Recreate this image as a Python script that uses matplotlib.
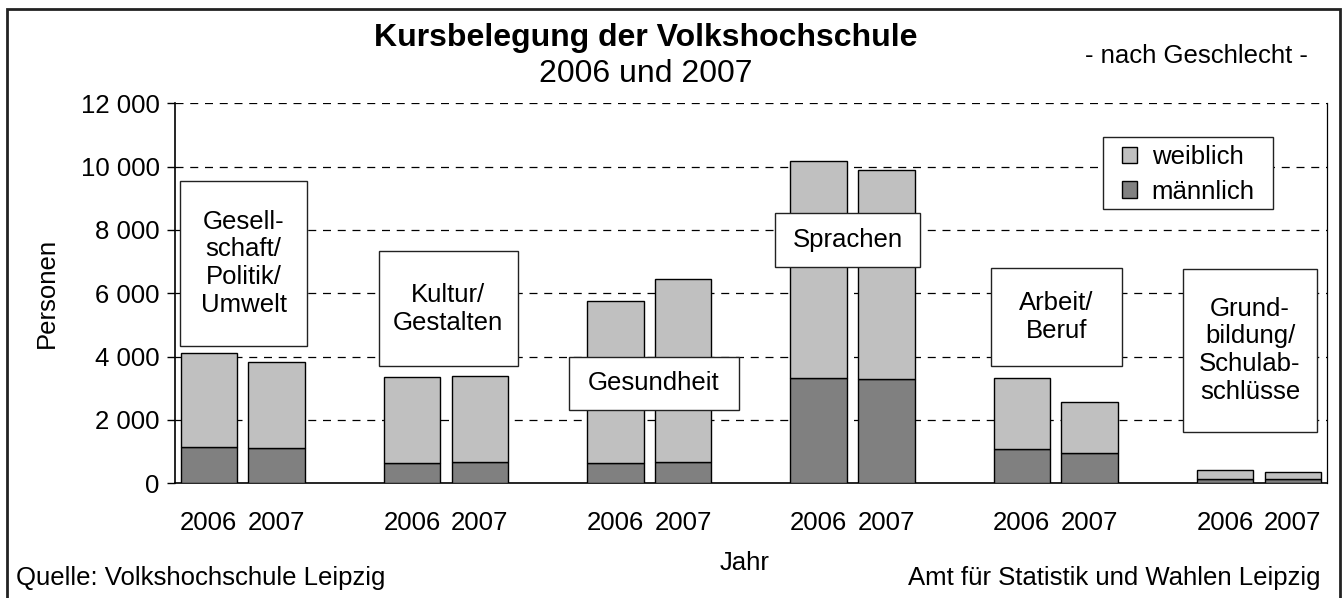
import matplotlib
matplotlib.use("Agg")
import matplotlib.pyplot as plt
from matplotlib.patches import Rectangle

plt.rcParams['font.family'] = ['Liberation Sans', 'DejaVu Sans']

# ---- data ----
groups = ["Gesell-\nschaft/\nPolitik/\nUmwelt", "Kultur/\nGestalten", "Gesundheit",
          "Sprachen", "Arbeit/\nBeruf", "Grund-\nbildung/\nSchulab-\nschlüsse"]
years = ["2006", "2007"]
maennlich = [1150, 1100, 650, 660, 640, 660, 3335, 3285, 1080, 950, 130, 130]
total = [4100, 3820, 3350, 3390, 5770, 6440, 10180, 9885, 3330, 2575, 430, 370]
weiblich = [t - m for t, m in zip(total, maennlich)]
yticks = [0, 2000, 4000, 6000, 8000, 10000, 12000]
ytick_labels = ["0", "2 000", "4 000", "6 000", "8 000", "10 000", "12 000"]

# ---- layout (annotation boxes in data coords: x0, x1, y0, y1) ----
boxes = [(-0.426, 1.451, 4345, 9552),
         (2.505, 4.560, 3705, 7325),
         (5.310, 7.818, 2315, 3997),
         (8.359, 10.502, 6839, 8525),
         (11.547, 13.479, 3704, 6808),
         (14.385, 16.350, 1629, 6767)]

W, H = 1344, 598
FS = 18.5
fig = plt.figure(figsize=(W / 100, H / 100), dpi=100)
ax = fig.add_axes([175 / W, (H - 483.3) / H, (1326.7 - 175) / W, (483.3 - 103.3) / H])

pos = []
for g in range(len(groups)):
    pos += [3 * g, 3 * g + 1]

light = "#C0C0C0"
dark = "#808080"
ax.bar(pos, maennlich, width=0.835, color=dark, edgecolor="black", linewidth=1, zorder=3, label="männlich")
ax.bar(pos, weiblich, bottom=maennlich, width=0.835, color=light, edgecolor="black", linewidth=1, zorder=3,
       label="weiblich")

ax.set_xlim(-0.5, 16.5)
ax.set_ylim(0, 12000)
ax.set_yticks(yticks)
ax.set_yticklabels(ytick_labels, fontsize=FS)
ax.set_xticks(pos)
ax.set_xticklabels(years * len(groups), fontsize=FS)
ax.tick_params(axis='x', length=0, pad=20)
ax.tick_params(axis='y', length=6, width=1, direction='out', pad=5)
for y in yticks[1:]:
    ax.axhline(y, color="black", linestyle=(0, (6.4, 5.4)), linewidth=0.9, zorder=1)
ax.spines["top"].set_visible(False)
ax.spines["left"].set_linewidth(1.2)
ax.spines["bottom"].set_linewidth(1.2)
ax.spines["right"].set_linewidth(0.9)

for (x0, x1, y0, y1), name in zip(boxes, groups):
    ax.add_patch(Rectangle((x0, y0), x1 - x0, y1 - y0, facecolor="white", edgecolor="#222222",
                           linewidth=1, zorder=5))
    ax.text((x0 + x1) / 2, (y0 + y1) / 2, name, ha="center", va="center", fontsize=FS,
            linespacing=1.2, zorder=6)

# legend (frame drawn separately)
handles, labels = ax.get_legend_handles_labels()
leg = fig.legend(handles[::-1], labels[::-1], loc="upper left",
                 bbox_to_anchor=(1121.5 / W, 1 - 145 / H),
                 fontsize=FS, frameon=False, handlelength=0.62, handleheight=0.62,
                 handletextpad=0.56, borderpad=0, labelspacing=0.42, borderaxespad=0)
fig.add_artist(Rectangle((1103 / W, 1 - 209.3 / H), 170 / W, 72.6 / H, transform=fig.transFigure,
                         facecolor="white", edgecolor="#222222", linewidth=1, zorder=6))
leg.set_zorder(8)

fig.text(646 / W, 1 - 46 / H, "Kursbelegung der Volkshochschule", ha="center", va="baseline",
         fontsize=23, fontweight="bold")
fig.text(646 / W, 1 - 82 / H, "2006 und 2007", ha="center", va="baseline", fontsize=23)
fig.text(1308 / W, 1 - 63 / H, "- nach Geschlecht -", ha="right", va="baseline", fontsize=FS)
fig.text(47 / W, 1 - 293 / H, "Personen", ha="center", va="center", rotation=90, fontsize=FS)
fig.text(745 / W, 1 - 570 / H, "Jahr", ha="center", va="baseline", fontsize=FS)
fig.text(16 / W, 1 - 585 / H, "Quelle: Volkshochschule Leipzig", ha="left", va="baseline", fontsize=FS)
fig.text(1321 / W, 1 - 585 / H, "Amt für Statistik und Wahlen Leipzig", ha="right", va="baseline", fontsize=FS)

fig.add_artist(Rectangle((7 / W, -5 / H), (1340 - 7) / W, (H - 9 + 5) / H, transform=fig.transFigure,
                         facecolor="none", edgecolor="#222222", linewidth=2))

fig.savefig("out.png", dpi=100)
